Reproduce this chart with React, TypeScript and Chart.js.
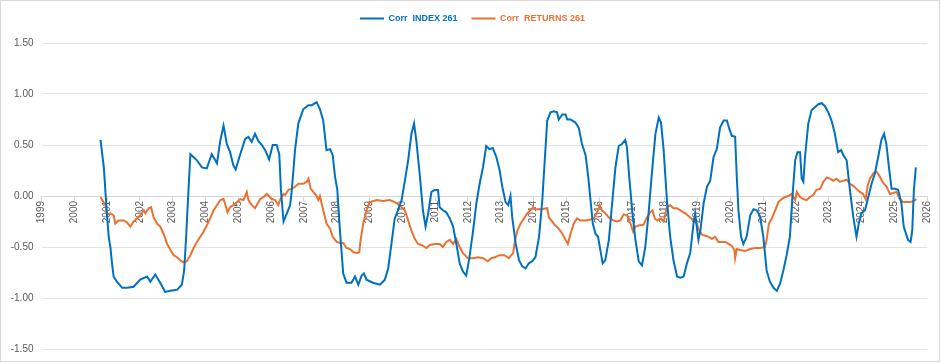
import React, { useEffect, useRef } from "react";
import { Chart, registerables } from "chart.js";

Chart.register(...registerables);

// ---- Data (decimal year, correlation value) ----
const indexYears = [
  2000.80, 2000.90, 2001.00, 2001.05, 2001.10, 2001.15, 2001.20, 2001.30, 2001.46, 2001.61,
  2001.81, 2002.01, 2002.22, 2002.32, 2002.47, 2002.62, 2002.77, 2002.93, 2003.13, 2003.28,
  2003.35, 2003.41, 2003.48, 2003.54, 2003.64, 2003.74, 2003.89, 2004.04, 2004.19, 2004.30,
  2004.35, 2004.45, 2004.55, 2004.65, 2004.75, 2004.85, 2004.92, 2005.06, 2005.21, 2005.31,
  2005.41, 2005.51, 2005.61, 2005.72, 2005.82, 2005.94, 2006.05, 2006.17, 2006.25, 2006.30,
  2006.38, 2006.48, 2006.58, 2006.63, 2006.73, 2006.83, 2006.98, 2007.14, 2007.24, 2007.39,
  2007.49, 2007.59, 2007.69, 2007.80, 2007.88, 2007.95, 2008.02, 2008.10, 2008.20, 2008.30,
  2008.45, 2008.56, 2008.66, 2008.76, 2008.83, 2008.91, 2009.11, 2009.32, 2009.47, 2009.57,
  2009.67, 2009.77, 2009.87, 2009.98, 2010.08, 2010.18, 2010.28, 2010.36, 2010.43, 2010.53,
  2010.63, 2010.71, 2010.79, 2010.89, 2010.99, 2011.09, 2011.14, 2011.24, 2011.34, 2011.45,
  2011.55, 2011.65, 2011.75, 2011.85, 2011.95, 2012.05, 2012.16, 2012.26, 2012.36, 2012.46,
  2012.56, 2012.66, 2012.76, 2012.87, 2012.97, 2013.05, 2013.15, 2013.23, 2013.30, 2013.35,
  2013.46, 2013.56, 2013.66, 2013.76, 2013.86, 2013.96, 2014.06, 2014.17, 2014.27, 2014.35,
  2014.42, 2014.52, 2014.62, 2014.72, 2014.77, 2014.88, 2014.98, 2015.03, 2015.13, 2015.28,
  2015.38, 2015.48, 2015.59, 2015.67, 2015.74, 2015.81, 2015.89, 2015.97, 2016.04, 2016.11,
  2016.19, 2016.30, 2016.40, 2016.50, 2016.60, 2016.70, 2016.80, 2016.85, 2016.92, 2017.01,
  2017.11, 2017.21, 2017.31, 2017.41, 2017.51, 2017.61, 2017.72, 2017.82, 2017.89, 2017.97,
  2018.07, 2018.17, 2018.27, 2018.38, 2018.48, 2018.58, 2018.68, 2018.78, 2018.88, 2018.93,
  2018.98, 2019.03, 2019.09, 2019.19, 2019.29, 2019.39, 2019.49, 2019.59, 2019.69, 2019.80,
  2019.90, 2019.97, 2020.05, 2020.15, 2020.20, 2020.25, 2020.33, 2020.40, 2020.50, 2020.61,
  2020.71, 2020.81, 2020.91, 2021.01, 2021.11, 2021.21, 2021.32, 2021.42, 2021.52, 2021.62,
  2021.72, 2021.82, 2021.89, 2021.98, 2022.05, 2022.13, 2022.18, 2022.23, 2022.28, 2022.38,
  2022.48, 2022.58, 2022.69, 2022.79, 2022.89, 2022.99, 2023.09, 2023.19, 2023.29, 2023.38,
  2023.45, 2023.55, 2023.65, 2023.75, 2023.85, 2023.92, 2024.00, 2024.11, 2024.21, 2024.31,
  2024.41, 2024.51, 2024.61, 2024.69, 2024.76, 2024.84, 2024.92, 2025.02, 2025.12, 2025.22,
  2025.29, 2025.42, 2025.50, 2025.55, 2025.60, 2025.66,
];
const indexValues = [
  0.55, 0.28, -0.20, -0.40, -0.50, -0.66, -0.79, -0.84, -0.90, -0.90,
  -0.89, -0.82, -0.79, -0.84, -0.77, -0.85, -0.94, -0.93, -0.92, -0.87,
  -0.73, -0.40, 0.05, 0.41, 0.38, 0.35, 0.28, 0.27, 0.41, 0.35,
  0.32, 0.54, 0.69, 0.51, 0.43, 0.30, 0.26, 0.41, 0.56, 0.58,
  0.53, 0.61, 0.54, 0.50, 0.45, 0.36, 0.50, 0.50, 0.41, 0.06,
  -0.25, -0.17, -0.09, 0.05, 0.45, 0.71, 0.85, 0.89, 0.89, 0.92,
  0.85, 0.74, 0.45, 0.46, 0.40, 0.19, 0.06, -0.34, -0.76, -0.85,
  -0.85, -0.79, -0.87, -0.78, -0.76, -0.82, -0.85, -0.87, -0.82, -0.71,
  -0.47, -0.22, -0.14, -0.04, 0.15, 0.35, 0.61, 0.71, 0.54, 0.22,
  -0.14, -0.30, -0.17, 0.04, 0.06, 0.06, -0.11, -0.14, -0.16, -0.22,
  -0.30, -0.47, -0.66, -0.74, -0.78, -0.60, -0.34, -0.07, 0.12, 0.28,
  0.49, 0.46, 0.47, 0.38, 0.25, 0.09, -0.06, -0.09, 0.00, -0.20,
  -0.47, -0.63, -0.69, -0.71, -0.66, -0.64, -0.60, -0.40, -0.04, 0.38,
  0.74, 0.82, 0.83, 0.82, 0.75, 0.80, 0.80, 0.75, 0.75, 0.72,
  0.67, 0.51, 0.40, 0.19, -0.04, -0.27, -0.37, -0.40, -0.53, -0.66,
  -0.63, -0.43, -0.07, 0.28, 0.49, 0.51, 0.55, 0.48, 0.19, -0.14,
  -0.43, -0.64, -0.68, -0.50, -0.17, 0.22, 0.61, 0.77, 0.72, 0.45,
  -0.04, -0.40, -0.63, -0.79, -0.80, -0.79, -0.66, -0.56, -0.27, -0.17,
  -0.30, -0.43, -0.34, -0.07, 0.09, 0.15, 0.38, 0.46, 0.67, 0.74,
  0.74, 0.66, 0.59, 0.58, 0.19, -0.14, -0.40, -0.47, -0.40, -0.19,
  -0.13, -0.14, -0.20, -0.40, -0.73, -0.84, -0.90, -0.93, -0.86, -0.73,
  -0.58, -0.40, -0.04, 0.35, 0.43, 0.43, 0.17, 0.14, 0.38, 0.71,
  0.84, 0.87, 0.90, 0.91, 0.88, 0.82, 0.74, 0.61, 0.43, 0.45,
  0.40, 0.35, 0.06, -0.20, -0.40, -0.27, -0.17, -0.14, -0.01, 0.12,
  0.22, 0.38, 0.55, 0.61, 0.51, 0.28, 0.07, 0.07, 0.06, -0.07,
  -0.30, -0.43, -0.45, -0.34, 0.06, 0.28,
];

const returnsYears = [
  2000.80, 2000.85, 2000.95, 2001.00, 2001.05, 2001.10, 2001.20, 2001.25, 2001.35, 2001.51,
  2001.61, 2001.71, 2001.81, 2001.91, 2002.01, 2002.12, 2002.17, 2002.27, 2002.34, 2002.42,
  2002.52, 2002.62, 2002.72, 2002.83, 2002.93, 2003.03, 2003.13, 2003.23, 2003.33, 2003.43,
  2003.54, 2003.64, 2003.74, 2003.84, 2003.94, 2004.04, 2004.14, 2004.25, 2004.35, 2004.45,
  2004.55, 2004.63, 2004.67, 2004.75, 2004.85, 2004.96, 2005.06, 2005.16, 2005.26, 2005.31,
  2005.41, 2005.51, 2005.56, 2005.67, 2005.77, 2005.87, 2006.02, 2006.12, 2006.22, 2006.27,
  2006.38, 2006.43, 2006.53, 2006.63, 2006.73, 2006.83, 2006.98, 2007.09, 2007.14, 2007.21,
  2007.29, 2007.39, 2007.44, 2007.49, 2007.59, 2007.69, 2007.80, 2007.88, 2008.00, 2008.10,
  2008.20, 2008.30, 2008.40, 2008.51, 2008.61, 2008.69, 2008.73, 2008.81, 2008.91, 2009.01,
  2009.22, 2009.42, 2009.62, 2009.77, 2009.92, 2010.08, 2010.18, 2010.28, 2010.38, 2010.48,
  2010.58, 2010.74, 2010.84, 2010.99, 2011.14, 2011.24, 2011.34, 2011.45, 2011.55, 2011.65,
  2011.75, 2011.85, 2012.00, 2012.16, 2012.31, 2012.46, 2012.61, 2012.71, 2012.82, 2012.97,
  2013.12, 2013.25, 2013.30, 2013.38, 2013.44, 2013.51, 2013.61, 2013.71, 2013.81, 2013.91,
  2013.99, 2014.06, 2014.22, 2014.42, 2014.47, 2014.57, 2014.67, 2014.77, 2014.88, 2014.98,
  2015.05, 2015.13, 2015.23, 2015.33, 2015.43, 2015.59, 2015.74, 2015.84, 2015.94, 2016.02,
  2016.09, 2016.19, 2016.30, 2016.45, 2016.55, 2016.65, 2016.75, 2016.85, 2016.96, 2017.04,
  2017.11, 2017.21, 2017.36, 2017.46, 2017.56, 2017.63, 2017.70, 2017.77, 2017.87, 2017.97,
  2018.07, 2018.17, 2018.27, 2018.38, 2018.48, 2018.63, 2018.78, 2018.88, 2018.98, 2019.03,
  2019.14, 2019.24, 2019.34, 2019.44, 2019.54, 2019.64, 2019.74, 2019.85, 2019.95, 2020.05,
  2020.13, 2020.15, 2020.20, 2020.30, 2020.45, 2020.61, 2020.76, 2020.91, 2021.06, 2021.11,
  2021.18, 2021.27, 2021.37, 2021.47, 2021.57, 2021.67, 2021.77, 2021.87, 2021.98, 2022.03,
  2022.13, 2022.23, 2022.33, 2022.43, 2022.53, 2022.63, 2022.74, 2022.84, 2022.94, 2023.04,
  2023.14, 2023.24, 2023.34, 2023.45, 2023.55, 2023.65, 2023.75, 2023.85, 2023.95, 2024.05,
  2024.13, 2024.19, 2024.26, 2024.36, 2024.46, 2024.56, 2024.66, 2024.77, 2024.87, 2024.97,
  2025.07, 2025.17, 2025.27, 2025.37, 2025.47, 2025.58, 2025.68,
];
const returnsValues = [
  -0.01, -0.04, -0.09, -0.17, -0.18, -0.17, -0.19, -0.27, -0.24, -0.24,
  -0.26, -0.30, -0.25, -0.22, -0.19, -0.14, -0.17, -0.12, -0.11, -0.21,
  -0.27, -0.30, -0.37, -0.47, -0.53, -0.58, -0.60, -0.63, -0.65, -0.64,
  -0.58, -0.51, -0.45, -0.40, -0.35, -0.29, -0.22, -0.14, -0.09, -0.04,
  -0.03, -0.11, -0.16, -0.11, -0.09, -0.06, -0.03, -0.04, 0.04, -0.04,
  -0.09, -0.12, -0.09, -0.03, -0.01, 0.02, -0.03, -0.04, -0.09, -0.04,
  0.02, 0.01, 0.06, 0.07, 0.09, 0.12, 0.12, 0.14, 0.17, 0.07,
  0.04, 0.00, -0.04, 0.00, -0.14, -0.27, -0.32, -0.40, -0.45, -0.46,
  -0.46, -0.51, -0.52, -0.55, -0.56, -0.55, -0.43, -0.27, -0.14, -0.06,
  -0.04, -0.05, -0.04, -0.06, -0.09, -0.14, -0.24, -0.34, -0.42, -0.47,
  -0.48, -0.51, -0.48, -0.47, -0.47, -0.50, -0.45, -0.43, -0.47, -0.42,
  -0.50, -0.56, -0.61, -0.61, -0.60, -0.61, -0.64, -0.61, -0.60, -0.58,
  -0.58, -0.61, -0.59, -0.56, -0.43, -0.34, -0.27, -0.22, -0.17, -0.14,
  -0.11, -0.13, -0.13, -0.12, -0.21, -0.25, -0.29, -0.32, -0.37, -0.43,
  -0.47, -0.37, -0.27, -0.22, -0.24, -0.24, -0.23, -0.22, -0.16, -0.09,
  -0.14, -0.17, -0.21, -0.24, -0.25, -0.24, -0.18, -0.19, -0.27, -0.35,
  -0.30, -0.29, -0.28, -0.21, -0.16, -0.14, -0.22, -0.24, -0.22, -0.25,
  -0.11, -0.09, -0.12, -0.12, -0.14, -0.17, -0.21, -0.24, -0.27, -0.32,
  -0.38, -0.39, -0.40, -0.42, -0.40, -0.45, -0.45, -0.45, -0.47, -0.49,
  -0.53, -0.61, -0.52, -0.53, -0.54, -0.52, -0.51, -0.51, -0.50, -0.43,
  -0.27, -0.22, -0.14, -0.06, -0.03, -0.01, 0.00, 0.02, -0.04, 0.04,
  -0.01, -0.03, -0.04, -0.01, 0.01, 0.06, 0.07, 0.14, 0.18, 0.17,
  0.15, 0.17, 0.14, 0.15, 0.16, 0.12, 0.10, 0.07, 0.04, 0.02,
  -0.03, 0.10, 0.17, 0.22, 0.24, 0.19, 0.13, 0.09, 0.02, 0.03,
  0.04, -0.03, -0.06, -0.06, -0.06, -0.05, -0.03,
];

const seriesNames = ["Corr  INDEX 261", "Corr  RETURNS 261"];
const seriesColors = ["#0070C0", "#E97132"];
const yearTicksMin = 1999;
const yearTicksMax = 2026;
const valueMin = -1.5;
const valueMax = 1.5;
const valueStep = 0.5;

const FONT = "'Liberation Sans', Arial, sans-serif";

export default function App() {
  const canvasRef = useRef<HTMLCanvasElement | null>(null);

  useEffect(() => {
    const canvas = canvasRef.current;
    if (!canvas) return;

    const toPoints = (xs: number[], ys: number[]) => xs.map((x, i) => ({ x, y: ys[i] }));

    const legendSpacer = {
      id: "legendSpacer",
      beforeLayout(chart: any) {
        const lg = chart.legend;
        if (lg && !lg._spacerPatched) {
          lg._spacerPatched = true;
          const origFit = lg.fit;
          lg.fit = function () {
            origFit.call(this);
            this.height += 10;
          };
          const origDraw = lg.draw;
          lg.draw = function (...args: any[]) {
            this.left += 9;
            this.right += 9;
            origDraw.apply(this, args);
            this.left -= 9;
            this.right -= 9;
          };
        }
      },
    };

    const chart = new Chart(canvas, {
      type: "line",
      data: {
        datasets: [
          {
            label: seriesNames[0],
            data: toPoints(indexYears, indexValues),
            borderColor: seriesColors[0],
            backgroundColor: seriesColors[0],
            borderWidth: 2,
            pointRadius: 0,
            tension: 0,
          },
          {
            label: seriesNames[1],
            data: toPoints(returnsYears, returnsValues),
            borderColor: seriesColors[1],
            backgroundColor: seriesColors[1],
            borderWidth: 2,
            pointRadius: 0,
            tension: 0,
          },
        ],
      },
      options: {
        animation: false,
        responsive: false,
        layout: { padding: { top: 0, left: 0, right: 14, bottom: 11 } },
        plugins: {
          tooltip: { enabled: false },
          legend: {
            display: true,
            position: "top",
            labels: {
              boxWidth: 24,
              boxHeight: 2,
              padding: 14,
              font: { family: FONT, size: 9, weight: "bold" },
              generateLabels(chart: any) {
                return chart.data.datasets.map((ds: any, i: number) => ({
                  text: ds.label,
                  fillStyle: ds.borderColor,
                  strokeStyle: ds.borderColor,
                  lineWidth: 0,
                  fontColor: ds.borderColor,
                  hidden: false,
                  datasetIndex: i,
                }));
              },
            },
          },
        },
        scales: {
          x: {
            type: "linear",
            position: { y: 0 },
            min: yearTicksMin,
            max: yearTicksMax,
            ticks: {
              stepSize: 1,
              autoSkip: false,
              minRotation: 90,
              maxRotation: 90,
              padding: 1,
              color: "#595959",
              font: { family: FONT, size: 10 },
              callback: (v: any) => String(Math.round(Number(v))),
            },
            grid: {
              drawOnChartArea: false,
              drawTicks: true,
              tickLength: 4,
              color: "#D9D9D9",
            },
            border: { display: true, color: "#D9D9D9", width: 1 },
          },
          y: {
            type: "linear",
            min: valueMin,
            max: valueMax,
            afterFit: (scale: any) => {
              scale.width = 41.5;
            },
            ticks: {
              stepSize: valueStep,
              padding: 8,
              color: "#595959",
              font: { family: FONT, size: 10 },
              callback: (v: any) => Number(v).toFixed(2),
            },
            grid: {
              color: "#E3E3E3",
              drawTicks: false,
            },
            border: { display: false },
          },
        },
      },
      plugins: [legendSpacer],
    } as any);

    return () => chart.destroy();
  }, []);

  return (
    <div style={{ position: "absolute", left: 0, top: 0, width: 941, height: 363, background: "#fff" }}>
      <canvas ref={canvasRef} width={941} height={363} style={{ position: "absolute", left: 0, top: 0 }} />
      <div
        style={{
          position: "absolute",
          left: 0,
          top: 0,
          width: 940,
          height: 362,
          border: "1px solid #D9D9D9",
          boxSizing: "border-box",
          pointerEvents: "none",
        }}
      />
    </div>
  );
}
